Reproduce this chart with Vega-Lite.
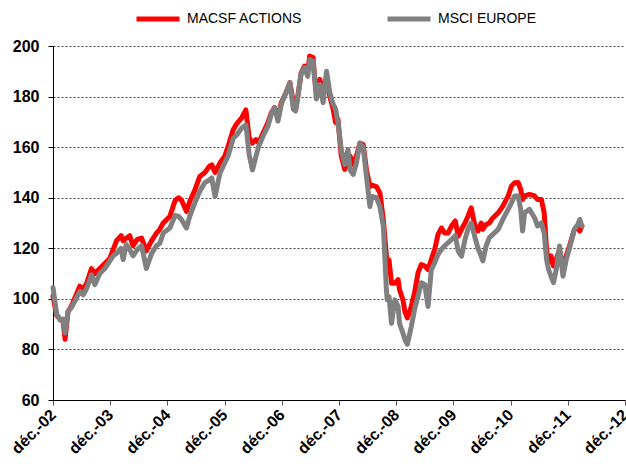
{
  "$schema": "https://vega.github.io/schema/vega-lite/v6.json",
  "width": 572,
  "height": 354,
  "autosize": {"type": "none"},
  "padding": {"left": 53, "top": 46, "right": 1, "bottom": 66},
  "background": "white",
  "config": {
    "view": {"stroke": null},
    "font": "Liberation Sans",
    "axis": {"labelFont": "Liberation Sans", "labelColor": "black", "labelFontWeight": "bold", "title": null}
  },
  "data": {
    "values": [
      {"d": "2002-12-01", "MACSF ACTIONS": 101, "MSCI EUROPE": 104.5},
      {"d": "2002-12-24", "MACSF ACTIONS": 93.6, "MSCI EUROPE": 94},
      {"d": "2003-01-15", "MACSF ACTIONS": 92, "MSCI EUROPE": 91.6},
      {"d": "2003-02-04", "MACSF ACTIONS": 91, "MSCI EUROPE": 92},
      {"d": "2003-02-16", "MACSF ACTIONS": 84, "MSCI EUROPE": 86.5},
      {"d": "2003-03-07", "MACSF ACTIONS": 95, "MSCI EUROPE": 95},
      {"d": "2003-03-28", "MACSF ACTIONS": 97, "MSCI EUROPE": 96.5},
      {"d": "2003-04-19", "MACSF ACTIONS": 100.3, "MSCI EUROPE": 99},
      {"d": "2003-05-21", "MACSF ACTIONS": 105, "MSCI EUROPE": 103},
      {"d": "2003-06-12", "MACSF ACTIONS": 104, "MSCI EUROPE": 101.6},
      {"d": "2003-07-03", "MACSF ACTIONS": 106, "MSCI EUROPE": 104},
      {"d": "2003-08-04", "MACSF ACTIONS": 112, "MSCI EUROPE": 109.5},
      {"d": "2003-08-25", "MACSF ACTIONS": 110, "MSCI EUROPE": 105.6},
      {"d": "2003-09-26", "MACSF ACTIONS": 112, "MSCI EUROPE": 110},
      {"d": "2003-10-28", "MACSF ACTIONS": 114, "MSCI EUROPE": 112},
      {"d": "2003-11-29", "MACSF ACTIONS": 116, "MSCI EUROPE": 115},
      {"d": "2003-12-20", "MACSF ACTIONS": 119.5, "MSCI EUROPE": 117},
      {"d": "2004-01-11", "MACSF ACTIONS": 123, "MSCI EUROPE": 118},
      {"d": "2004-02-09", "MACSF ACTIONS": 125, "MSCI EUROPE": 120},
      {"d": "2004-02-22", "MACSF ACTIONS": 123, "MSCI EUROPE": 115.5},
      {"d": "2004-03-13", "MACSF ACTIONS": 124, "MSCI EUROPE": 121.5},
      {"d": "2004-04-04", "MACSF ACTIONS": 125, "MSCI EUROPE": 119.5},
      {"d": "2004-04-25", "MACSF ACTIONS": 121, "MSCI EUROPE": 117},
      {"d": "2004-05-22", "MACSF ACTIONS": 123.5, "MSCI EUROPE": 119.5},
      {"d": "2004-06-19", "MACSF ACTIONS": 124, "MSCI EUROPE": 121},
      {"d": "2004-07-19", "MACSF ACTIONS": 119, "MSCI EUROPE": 112},
      {"d": "2004-08-22", "MACSF ACTIONS": 123, "MSCI EUROPE": 118},
      {"d": "2004-09-22", "MACSF ACTIONS": 126, "MSCI EUROPE": 121},
      {"d": "2004-10-13", "MACSF ACTIONS": 127.5, "MSCI EUROPE": 122},
      {"d": "2004-11-04", "MACSF ACTIONS": 130, "MSCI EUROPE": 126},
      {"d": "2004-12-16", "MACSF ACTIONS": 132.6, "MSCI EUROPE": 128},
      {"d": "2005-01-19", "MACSF ACTIONS": 139, "MSCI EUROPE": 133},
      {"d": "2005-02-10", "MACSF ACTIONS": 140, "MSCI EUROPE": 132.6},
      {"d": "2005-03-01", "MACSF ACTIONS": 139, "MSCI EUROPE": 131.3},
      {"d": "2005-04-01", "MACSF ACTIONS": 134.6, "MSCI EUROPE": 128},
      {"d": "2005-04-22", "MACSF ACTIONS": 138.5, "MSCI EUROPE": 132.6},
      {"d": "2005-05-25", "MACSF ACTIONS": 143, "MSCI EUROPE": 138},
      {"d": "2005-06-25", "MACSF ACTIONS": 148.4, "MSCI EUROPE": 142.5},
      {"d": "2005-07-28", "MACSF ACTIONS": 150, "MSCI EUROPE": 146},
      {"d": "2005-08-25", "MACSF ACTIONS": 152.4, "MSCI EUROPE": 147},
      {"d": "2005-09-10", "MACSF ACTIONS": 153, "MSCI EUROPE": 147.8},
      {"d": "2005-10-01", "MACSF ACTIONS": 150, "MSCI EUROPE": 140.5},
      {"d": "2005-11-01", "MACSF ACTIONS": 153.7, "MSCI EUROPE": 149.7},
      {"d": "2005-12-01", "MACSF ACTIONS": 156.3, "MSCI EUROPE": 153.7},
      {"d": "2005-12-22", "MACSF ACTIONS": 160, "MSCI EUROPE": 156.3},
      {"d": "2006-01-25", "MACSF ACTIONS": 167, "MSCI EUROPE": 163.5},
      {"d": "2006-02-19", "MACSF ACTIONS": 169.5, "MSCI EUROPE": 165},
      {"d": "2006-03-19", "MACSF ACTIONS": 171.5, "MSCI EUROPE": 167.5},
      {"d": "2006-04-16", "MACSF ACTIONS": 174.7, "MSCI EUROPE": 168.8},
      {"d": "2006-05-07", "MACSF ACTIONS": 163.6, "MSCI EUROPE": 157},
      {"d": "2006-05-28", "MACSF ACTIONS": 161.6, "MSCI EUROPE": 151},
      {"d": "2006-06-19", "MACSF ACTIONS": 163, "MSCI EUROPE": 156.3},
      {"d": "2006-07-07", "MACSF ACTIONS": 161.7, "MSCI EUROPE": 160.4},
      {"d": "2006-08-04", "MACSF ACTIONS": 165.7, "MSCI EUROPE": 164.4},
      {"d": "2006-09-04", "MACSF ACTIONS": 169.7, "MSCI EUROPE": 168.3},
      {"d": "2006-09-25", "MACSF ACTIONS": 173.6, "MSCI EUROPE": 173},
      {"d": "2006-10-16", "MACSF ACTIONS": 175.6, "MSCI EUROPE": 175.6},
      {"d": "2006-11-07", "MACSF ACTIONS": 171.6, "MSCI EUROPE": 170.3},
      {"d": "2006-11-28", "MACSF ACTIONS": 177.6, "MSCI EUROPE": 177},
      {"d": "2006-12-28", "MACSF ACTIONS": 181.5, "MSCI EUROPE": 181.5},
      {"d": "2007-01-22", "MACSF ACTIONS": 185.5, "MSCI EUROPE": 185.5},
      {"d": "2007-02-13", "MACSF ACTIONS": 177.6, "MSCI EUROPE": 175},
      {"d": "2007-02-28", "MACSF ACTIONS": 175, "MSCI EUROPE": 174.3},
      {"d": "2007-03-13", "MACSF ACTIONS": 180, "MSCI EUROPE": 179.5},
      {"d": "2007-04-04", "MACSF ACTIONS": 189.4, "MSCI EUROPE": 189.4},
      {"d": "2007-04-25", "MACSF ACTIONS": 192, "MSCI EUROPE": 191.4},
      {"d": "2007-05-16", "MACSF ACTIONS": 190, "MSCI EUROPE": 188},
      {"d": "2007-05-28", "MACSF ACTIONS": 196, "MSCI EUROPE": 194.7},
      {"d": "2007-06-19", "MACSF ACTIONS": 195.4, "MSCI EUROPE": 194},
      {"d": "2007-06-28", "MACSF ACTIONS": 188, "MSCI EUROPE": 188},
      {"d": "2007-07-10", "MACSF ACTIONS": 181.5, "MSCI EUROPE": 179},
      {"d": "2007-08-01", "MACSF ACTIONS": 186.8, "MSCI EUROPE": 184.8},
      {"d": "2007-08-22", "MACSF ACTIONS": 181.5, "MSCI EUROPE": 177.6},
      {"d": "2007-09-13", "MACSF ACTIONS": 188, "MSCI EUROPE": 190},
      {"d": "2007-10-04", "MACSF ACTIONS": 180, "MSCI EUROPE": 181.5},
      {"d": "2007-10-25", "MACSF ACTIONS": 175, "MSCI EUROPE": 177},
      {"d": "2007-11-10", "MACSF ACTIONS": 169.7, "MSCI EUROPE": 175},
      {"d": "2007-11-25", "MACSF ACTIONS": 171, "MSCI EUROPE": 169.7},
      {"d": "2007-12-16", "MACSF ACTIONS": 156.5, "MSCI EUROPE": 159},
      {"d": "2008-01-07", "MACSF ACTIONS": 151.2, "MSCI EUROPE": 153.2},
      {"d": "2008-01-28", "MACSF ACTIONS": 155, "MSCI EUROPE": 159},
      {"d": "2008-02-10", "MACSF ACTIONS": 156.5, "MSCI EUROPE": 151},
      {"d": "2008-03-01", "MACSF ACTIONS": 153.2, "MSCI EUROPE": 149.2},
      {"d": "2008-03-22", "MACSF ACTIONS": 156.5, "MSCI EUROPE": 153.8},
      {"d": "2008-04-13", "MACSF ACTIONS": 161.6, "MSCI EUROPE": 161.6},
      {"d": "2008-05-04", "MACSF ACTIONS": 161, "MSCI EUROPE": 160},
      {"d": "2008-05-25", "MACSF ACTIONS": 151, "MSCI EUROPE": 148.4},
      {"d": "2008-06-16", "MACSF ACTIONS": 144.4, "MSCI EUROPE": 136.5},
      {"d": "2008-06-28", "MACSF ACTIONS": 145, "MSCI EUROPE": 140.5},
      {"d": "2008-07-28", "MACSF ACTIONS": 144.4, "MSCI EUROPE": 140},
      {"d": "2008-08-19", "MACSF ACTIONS": 141.8, "MSCI EUROPE": 136.5},
      {"d": "2008-09-10", "MACSF ACTIONS": 131.2, "MSCI EUROPE": 128.6},
      {"d": "2008-09-28", "MACSF ACTIONS": 118, "MSCI EUROPE": 104.9},
      {"d": "2008-10-04", "MACSF ACTIONS": 111.5, "MSCI EUROPE": 99.6},
      {"d": "2008-10-16", "MACSF ACTIONS": 115.4, "MSCI EUROPE": 100.9},
      {"d": "2008-11-01", "MACSF ACTIONS": 106.2, "MSCI EUROPE": 90.3},
      {"d": "2008-11-22", "MACSF ACTIONS": 106.2, "MSCI EUROPE": 99.6},
      {"d": "2008-12-13", "MACSF ACTIONS": 107.6, "MSCI EUROPE": 97},
      {"d": "2008-12-22", "MACSF ACTIONS": 103.6, "MSCI EUROPE": 90.3},
      {"d": "2009-01-13", "MACSF ACTIONS": 99.6, "MSCI EUROPE": 86.4},
      {"d": "2009-01-25", "MACSF ACTIONS": 95, "MSCI EUROPE": 84},
      {"d": "2009-02-10", "MACSF ACTIONS": 92.5, "MSCI EUROPE": 82},
      {"d": "2009-03-07", "MACSF ACTIONS": 97, "MSCI EUROPE": 89},
      {"d": "2009-03-28", "MACSF ACTIONS": 102.4, "MSCI EUROPE": 95.8},
      {"d": "2009-04-19", "MACSF ACTIONS": 110.3, "MSCI EUROPE": 101},
      {"d": "2009-05-10", "MACSF ACTIONS": 113.6, "MSCI EUROPE": 106.4},
      {"d": "2009-06-01", "MACSF ACTIONS": 113, "MSCI EUROPE": 105.7},
      {"d": "2009-06-22", "MACSF ACTIONS": 111.6, "MSCI EUROPE": 97},
      {"d": "2009-07-13", "MACSF ACTIONS": 115.6, "MSCI EUROPE": 111.6},
      {"d": "2009-08-04", "MACSF ACTIONS": 119.6, "MSCI EUROPE": 114.3},
      {"d": "2009-08-25", "MACSF ACTIONS": 125.5, "MSCI EUROPE": 117.6},
      {"d": "2009-09-16", "MACSF ACTIONS": 128, "MSCI EUROPE": 119.6},
      {"d": "2009-10-07", "MACSF ACTIONS": 126, "MSCI EUROPE": 121},
      {"d": "2009-10-28", "MACSF ACTIONS": 126, "MSCI EUROPE": 122.2},
      {"d": "2009-11-19", "MACSF ACTIONS": 128.8, "MSCI EUROPE": 123.5},
      {"d": "2009-12-13", "MACSF ACTIONS": 130.8, "MSCI EUROPE": 125},
      {"d": "2010-01-01", "MACSF ACTIONS": 124.8, "MSCI EUROPE": 118.9},
      {"d": "2010-01-22", "MACSF ACTIONS": 127.5, "MSCI EUROPE": 116.9},
      {"d": "2010-02-13", "MACSF ACTIONS": 130, "MSCI EUROPE": 123.5},
      {"d": "2010-03-04", "MACSF ACTIONS": 132.7, "MSCI EUROPE": 127.5},
      {"d": "2010-03-25", "MACSF ACTIONS": 136, "MSCI EUROPE": 130},
      {"d": "2010-04-16", "MACSF ACTIONS": 129.4, "MSCI EUROPE": 124.8},
      {"d": "2010-05-07", "MACSF ACTIONS": 126.8, "MSCI EUROPE": 120},
      {"d": "2010-05-28", "MACSF ACTIONS": 130, "MSCI EUROPE": 116.9},
      {"d": "2010-06-07", "MACSF ACTIONS": 127.5, "MSCI EUROPE": 115},
      {"d": "2010-06-28", "MACSF ACTIONS": 129.4, "MSCI EUROPE": 120.9},
      {"d": "2010-07-19", "MACSF ACTIONS": 130, "MSCI EUROPE": 124.2},
      {"d": "2010-08-10", "MACSF ACTIONS": 132, "MSCI EUROPE": 125.5},
      {"d": "2010-09-13", "MACSF ACTIONS": 134, "MSCI EUROPE": 127.5},
      {"d": "2010-10-13", "MACSF ACTIONS": 136.7, "MSCI EUROPE": 131.4},
      {"d": "2010-11-16", "MACSF ACTIONS": 140.7, "MSCI EUROPE": 135.4},
      {"d": "2010-12-07", "MACSF ACTIONS": 144.6, "MSCI EUROPE": 138},
      {"d": "2010-12-28", "MACSF ACTIONS": 145.9, "MSCI EUROPE": 140.7},
      {"d": "2011-01-19", "MACSF ACTIONS": 146, "MSCI EUROPE": 140.7},
      {"d": "2011-02-04", "MACSF ACTIONS": 143.3, "MSCI EUROPE": 135.4},
      {"d": "2011-02-16", "MACSF ACTIONS": 139.3, "MSCI EUROPE": 126.8},
      {"d": "2011-03-01", "MACSF ACTIONS": 140.7, "MSCI EUROPE": 134},
      {"d": "2011-04-01", "MACSF ACTIONS": 141.3, "MSCI EUROPE": 135.4},
      {"d": "2011-05-04", "MACSF ACTIONS": 140.7, "MSCI EUROPE": 132},
      {"d": "2011-05-22", "MACSF ACTIONS": 139.3, "MSCI EUROPE": 128.8},
      {"d": "2011-06-16", "MACSF ACTIONS": 139.3, "MSCI EUROPE": 130},
      {"d": "2011-07-04", "MACSF ACTIONS": 134, "MSCI EUROPE": 126},
      {"d": "2011-07-19", "MACSF ACTIONS": 119.6, "MSCI EUROPE": 115.6},
      {"d": "2011-08-01", "MACSF ACTIONS": 114.3, "MSCI EUROPE": 111.6},
      {"d": "2011-08-16", "MACSF ACTIONS": 117, "MSCI EUROPE": 109},
      {"d": "2011-09-01", "MACSF ACTIONS": 113, "MSCI EUROPE": 106.4},
      {"d": "2011-09-19", "MACSF ACTIONS": 115.6, "MSCI EUROPE": 111.6},
      {"d": "2011-10-10", "MACSF ACTIONS": 119.6, "MSCI EUROPE": 120.9},
      {"d": "2011-11-01", "MACSF ACTIONS": 111.6, "MSCI EUROPE": 109},
      {"d": "2011-11-22", "MACSF ACTIONS": 117, "MSCI EUROPE": 115.6},
      {"d": "2011-12-13", "MACSF ACTIONS": 121, "MSCI EUROPE": 120.2},
      {"d": "2012-01-13", "MACSF ACTIONS": 127.5, "MSCI EUROPE": 127.5},
      {"d": "2012-02-04", "MACSF ACTIONS": 128.8, "MSCI EUROPE": 129.4},
      {"d": "2012-02-16", "MACSF ACTIONS": 126.8, "MSCI EUROPE": 131.4},
      {"d": "2012-03-01", "MACSF ACTIONS": 128.8, "MSCI EUROPE": 128.8}
    ]
  },
  "transform": [
    {"fold": ["MACSF ACTIONS", "MSCI EUROPE"], "as": ["serie", "v"]}
  ],
  "mark": {"type": "line", "strokeWidth": 5, "strokeJoin": "round", "strokeCap": "round"},
  "encoding": {
    "x": {
      "field": "d",
      "type": "temporal",
      "scale": {
        "type": "utc",
        "domain": [
          {"year": 2002, "month": 12, "date": 1, "utc": true},
          {"year": 2012, "month": 12, "date": 1, "utc": true}
        ]
      },
      "axis": {
        "values": [
          {"year": 2002, "month": 12, "date": 1, "utc": true},
          {"year": 2003, "month": 12, "date": 1, "utc": true},
          {"year": 2004, "month": 12, "date": 1, "utc": true},
          {"year": 2005, "month": 12, "date": 1, "utc": true},
          {"year": 2006, "month": 12, "date": 1, "utc": true},
          {"year": 2007, "month": 12, "date": 1, "utc": true},
          {"year": 2008, "month": 12, "date": 1, "utc": true},
          {"year": 2009, "month": 12, "date": 1, "utc": true},
          {"year": 2010, "month": 12, "date": 1, "utc": true},
          {"year": 2011, "month": 12, "date": 1, "utc": true},
          {"year": 2012, "month": 12, "date": 1, "utc": true}
        ],
        "labelExpr": "'déc.-' + utcFormat(datum.value, '%y')",
        "labelAngle": -45,
        "labelAlign": "right",
        "labelBaseline": "middle",
        "labelFontSize": 16,
        "labelPadding": 7,
        "labelOverlap": false,
        "labelFlush": false,
        "labelBound": false,
        "grid": false,
        "tickSize": 5,
        "tickColor": "#555",
        "domainColor": "black",
        "domainWidth": 1
      }
    },
    "y": {
      "field": "v",
      "type": "quantitative",
      "scale": {"domain": [60, 200], "nice": false, "zero": false},
      "axis": {
        "values": [60, 80, 100, 120, 140, 160, 180, 200],
        "labelFontSize": 16,
        "labelPadding": 9,
        "tickSize": 5,
        "tickColor": "black",
        "domainColor": "black",
        "domainWidth": 1,
        "grid": true,
        "gridColor": "#444",
        "gridDash": [2, 2],
        "gridWidth": 1
      }
    },
    "color": {
      "field": "serie",
      "type": "nominal",
      "scale": {"domain": ["MACSF ACTIONS", "MSCI EUROPE"], "range": ["#FF0000", "#808080"]},
      "legend": {
        "title": null,
        "orient": "none",
        "direction": "horizontal",
        "legendX": 81,
        "legendY": -51,
        "padding": 0,
        "symbolType": "stroke",
        "symbolSize": 1849,
        "symbolStrokeWidth": 5,
        "labelFont": "Liberation Sans",
        "labelFontSize": 14,
        "labelColor": "black",
        "labelOffset": 5,
        "columnPadding": 74
      }
    }
  }
}
